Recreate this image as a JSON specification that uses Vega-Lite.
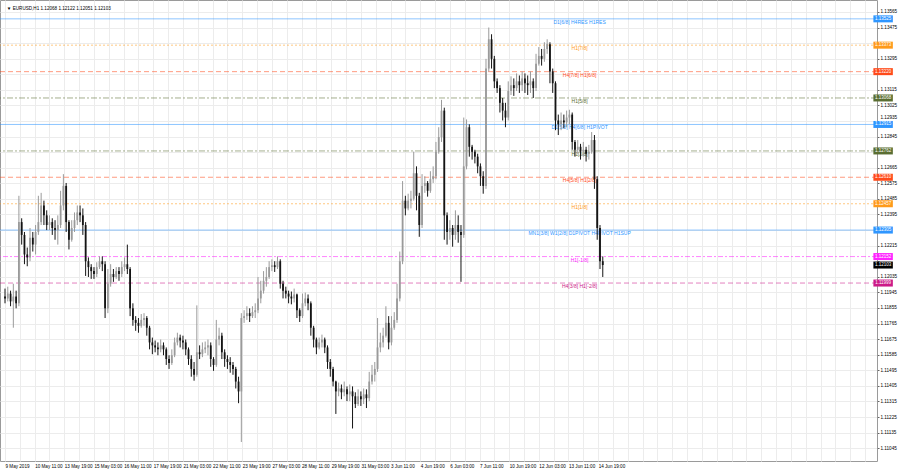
{
"$schema": "https://vega.github.io/schema/vega-lite/v6.json",
"width": 877, "height": 461,
"autosize": {"type": "none"},
"padding": {"left": 0, "top": 0, "right": 23, "bottom": 9},
"background": "#ffffff",
"config": {"view": {"stroke": "#9a9a9a", "strokeWidth": 1}, "font": "Liberation Sans",
 "axis": {"labelOverlap": false, "labelBound": false, "labelFlush": false}},
"datasets": {
"header": [{"text": "▼  EURUSD,H1  1.12068 1.12122 1.12051 1.12103"}],
"levels": [
{"price": 1.13525, "kind": "pivot", "label": "D1[6/8] H4RES H1RES"},
{"price": 1.13373, "kind": "weak", "label": "H1[7/8]"},
{"price": 1.13220, "kind": "reverse", "label": "H4[7/8] H1[6/8]"},
{"price": 1.13068, "kind": "range", "label": "H1[5/8]"},
{"price": 1.12915, "kind": "pivot", "label": "D1[5/8] H4[6/8] H1PIVOT"},
{"price": 1.12762, "kind": "range", "label": "H1[3/8]"},
{"price": 1.12610, "kind": "reverse", "label": "H4[5/8] H1[2/8]"},
{"price": 1.12457, "kind": "weak", "label": "H1[1/8]"},
{"price": 1.12305, "kind": "pivot", "label": "MN1[3/8] W1[2/8] D1PIVOT H4PIVOT H1SUP"},
{"price": 1.12152, "kind": "minus1", "label": "H1[-1/8]"},
{"price": 1.11999, "kind": "minus2", "label": "H4[3/8] H1[-2/8]"},
{"price": 1.12103, "kind": "bid", "label": ""}
],
"bars": [
{"t":0,"o":1.11921,"h":1.11967,"l":1.11882,"c":1.11910},
{"t":3,"o":1.11910,"h":1.11978,"l":1.11893,"c":1.11938},
{"t":6,"o":1.11938,"h":1.11955,"l":1.11865,"c":1.11893},
{"t":9,"o":1.11893,"h":1.11995,"l":1.11741,"c":1.11921},
{"t":12,"o":1.11921,"h":1.11955,"l":1.11853,"c":1.11882},
{"t":15,"o":1.11882,"h":1.12503,"l":1.11865,"c":1.12351},
{"t":18,"o":1.12351,"h":1.12373,"l":1.12221,"c":1.12277},
{"t":21,"o":1.12277,"h":1.12294,"l":1.12108,"c":1.12164},
{"t":24,"o":1.12164,"h":1.12204,"l":1.12096,"c":1.12147},
{"t":27,"o":1.12147,"h":1.12317,"l":1.12125,"c":1.12260},
{"t":30,"o":1.12260,"h":1.12294,"l":1.12181,"c":1.12221},
{"t":33,"o":1.12221,"h":1.12334,"l":1.12164,"c":1.12294},
{"t":36,"o":1.12294,"h":1.12503,"l":1.12277,"c":1.12351},
{"t":39,"o":1.12351,"h":1.12520,"l":1.12334,"c":1.12447},
{"t":42,"o":1.12447,"h":1.12475,"l":1.12334,"c":1.12390},
{"t":45,"o":1.12390,"h":1.12419,"l":1.12305,"c":1.12334},
{"t":48,"o":1.12334,"h":1.12390,"l":1.12305,"c":1.12351},
{"t":51,"o":1.12351,"h":1.12373,"l":1.12277,"c":1.12317},
{"t":54,"o":1.12317,"h":1.12362,"l":1.12249,"c":1.12305},
{"t":57,"o":1.12305,"h":1.12390,"l":1.12221,"c":1.12334},
{"t":60,"o":1.12334,"h":1.12532,"l":1.12317,"c":1.12447},
{"t":63,"o":1.12447,"h":1.12628,"l":1.12419,"c":1.12560},
{"t":66,"o":1.12560,"h":1.12577,"l":1.12294,"c":1.12351},
{"t":69,"o":1.12351,"h":1.12362,"l":1.12193,"c":1.12249},
{"t":72,"o":1.12249,"h":1.12362,"l":1.12238,"c":1.12317},
{"t":75,"o":1.12317,"h":1.12407,"l":1.12294,"c":1.12362},
{"t":78,"o":1.12362,"h":1.12447,"l":1.12334,"c":1.12407},
{"t":81,"o":1.12407,"h":1.12447,"l":1.12351,"c":1.12390},
{"t":84,"o":1.12390,"h":1.12430,"l":1.12277,"c":1.12334},
{"t":87,"o":1.12334,"h":1.12351,"l":1.12040,"c":1.12125},
{"t":90,"o":1.12125,"h":1.12147,"l":1.12034,"c":1.12091},
{"t":93,"o":1.12091,"h":1.12108,"l":1.12023,"c":1.12068},
{"t":96,"o":1.12068,"h":1.12091,"l":1.12023,"c":1.12051},
{"t":99,"o":1.12051,"h":1.12119,"l":1.12034,"c":1.12091},
{"t":102,"o":1.12091,"h":1.12153,"l":1.12080,"c":1.12125},
{"t":105,"o":1.12125,"h":1.12153,"l":1.12068,"c":1.12108},
{"t":108,"o":1.12108,"h":1.12125,"l":1.11797,"c":1.11853},
{"t":111,"o":1.11853,"h":1.12080,"l":1.11825,"c":1.11995},
{"t":114,"o":1.11995,"h":1.12108,"l":1.11978,"c":1.12051},
{"t":117,"o":1.12051,"h":1.12080,"l":1.12006,"c":1.12034},
{"t":120,"o":1.12034,"h":1.12091,"l":1.12023,"c":1.12068},
{"t":123,"o":1.12068,"h":1.12091,"l":1.12012,"c":1.12051},
{"t":126,"o":1.12051,"h":1.12125,"l":1.12034,"c":1.12091},
{"t":129,"o":1.12091,"h":1.12147,"l":1.12068,"c":1.12108},
{"t":132,"o":1.12108,"h":1.12221,"l":1.12051,"c":1.12080},
{"t":135,"o":1.12080,"h":1.12091,"l":1.11808,"c":1.11853},
{"t":138,"o":1.11853,"h":1.11882,"l":1.11752,"c":1.11786},
{"t":141,"o":1.11786,"h":1.11808,"l":1.11723,"c":1.11769},
{"t":144,"o":1.11769,"h":1.11797,"l":1.11712,"c":1.11752},
{"t":147,"o":1.11752,"h":1.11820,"l":1.11741,"c":1.11786},
{"t":150,"o":1.11786,"h":1.11825,"l":1.11752,"c":1.11797},
{"t":153,"o":1.11797,"h":1.11808,"l":1.11695,"c":1.11741},
{"t":156,"o":1.11741,"h":1.11752,"l":1.11616,"c":1.11656},
{"t":159,"o":1.11656,"h":1.11684,"l":1.11588,"c":1.11639},
{"t":162,"o":1.11639,"h":1.11667,"l":1.11599,"c":1.11627},
{"t":165,"o":1.11627,"h":1.11656,"l":1.11582,"c":1.11616},
{"t":168,"o":1.11616,"h":1.11673,"l":1.11599,"c":1.11639},
{"t":171,"o":1.11639,"h":1.11656,"l":1.11582,"c":1.11616},
{"t":174,"o":1.11616,"h":1.11627,"l":1.11526,"c":1.11560},
{"t":177,"o":1.11560,"h":1.11582,"l":1.11503,"c":1.11537},
{"t":180,"o":1.11537,"h":1.11616,"l":1.11526,"c":1.11582},
{"t":183,"o":1.11582,"h":1.11684,"l":1.11571,"c":1.11656},
{"t":186,"o":1.11656,"h":1.11712,"l":1.11639,"c":1.11684},
{"t":189,"o":1.11684,"h":1.11701,"l":1.11627,"c":1.11667},
{"t":192,"o":1.11667,"h":1.11695,"l":1.11616,"c":1.11656},
{"t":195,"o":1.11656,"h":1.11673,"l":1.11582,"c":1.11616},
{"t":198,"o":1.11616,"h":1.11627,"l":1.11526,"c":1.11560},
{"t":201,"o":1.11560,"h":1.11582,"l":1.11458,"c":1.11503},
{"t":204,"o":1.11503,"h":1.11543,"l":1.11435,"c":1.11469},
{"t":207,"o":1.11469,"h":1.11870,"l":1.11458,"c":1.11599},
{"t":210,"o":1.11599,"h":1.11639,"l":1.11560,"c":1.11588},
{"t":213,"o":1.11588,"h":1.11656,"l":1.11571,"c":1.11616},
{"t":216,"o":1.11616,"h":1.11661,"l":1.11594,"c":1.11627},
{"t":219,"o":1.11627,"h":1.11673,"l":1.11582,"c":1.11639},
{"t":222,"o":1.11639,"h":1.11656,"l":1.11515,"c":1.11560},
{"t":225,"o":1.11560,"h":1.11571,"l":1.11492,"c":1.11526},
{"t":228,"o":1.11526,"h":1.11786,"l":1.11515,"c":1.11673},
{"t":231,"o":1.11673,"h":1.11741,"l":1.11639,"c":1.11695},
{"t":234,"o":1.11695,"h":1.11712,"l":1.11560,"c":1.11599},
{"t":237,"o":1.11599,"h":1.11616,"l":1.11515,"c":1.11560},
{"t":240,"o":1.11560,"h":1.11582,"l":1.11503,"c":1.11543},
{"t":243,"o":1.11543,"h":1.11571,"l":1.11481,"c":1.11526},
{"t":246,"o":1.11526,"h":1.11543,"l":1.11469,"c":1.11503},
{"t":249,"o":1.11503,"h":1.11515,"l":1.11390,"c":1.11430},
{"t":252,"o":1.11430,"h":1.11458,"l":1.11305,"c":1.11373},
{"t":255,"o":1.11373,"h":1.11825,"l":1.11081,"c":1.11797},
{"t":258,"o":1.11797,"h":1.11842,"l":1.11769,"c":1.11808},
{"t":261,"o":1.11808,"h":1.11865,"l":1.11786,"c":1.11825},
{"t":264,"o":1.11825,"h":1.11853,"l":1.11774,"c":1.11808},
{"t":267,"o":1.11808,"h":1.11865,"l":1.11797,"c":1.11831},
{"t":270,"o":1.11831,"h":1.11882,"l":1.11797,"c":1.11842},
{"t":273,"o":1.11842,"h":1.12034,"l":1.11825,"c":1.11910},
{"t":276,"o":1.11910,"h":1.12012,"l":1.11882,"c":1.11955},
{"t":279,"o":1.11955,"h":1.12068,"l":1.11938,"c":1.12012},
{"t":282,"o":1.12012,"h":1.12091,"l":1.11978,"c":1.12034},
{"t":285,"o":1.12034,"h":1.12125,"l":1.12023,"c":1.12091},
{"t":288,"o":1.12091,"h":1.12136,"l":1.12068,"c":1.12102},
{"t":291,"o":1.12102,"h":1.12125,"l":1.12063,"c":1.12091},
{"t":294,"o":1.12091,"h":1.12153,"l":1.12080,"c":1.12125},
{"t":297,"o":1.12125,"h":1.12136,"l":1.11967,"c":1.11995},
{"t":300,"o":1.11995,"h":1.12012,"l":1.11910,"c":1.11955},
{"t":303,"o":1.11955,"h":1.11978,"l":1.11910,"c":1.11938},
{"t":306,"o":1.11938,"h":1.11955,"l":1.11882,"c":1.11921},
{"t":309,"o":1.11921,"h":1.11950,"l":1.11876,"c":1.11910},
{"t":312,"o":1.11910,"h":1.11967,"l":1.11887,"c":1.11933},
{"t":315,"o":1.11933,"h":1.11938,"l":1.11797,"c":1.11842},
{"t":318,"o":1.11842,"h":1.11853,"l":1.11774,"c":1.11808},
{"t":321,"o":1.11808,"h":1.11938,"l":1.11797,"c":1.11882},
{"t":324,"o":1.11882,"h":1.11944,"l":1.11865,"c":1.11910},
{"t":327,"o":1.11910,"h":1.11933,"l":1.11842,"c":1.11882},
{"t":330,"o":1.11882,"h":1.11893,"l":1.11695,"c":1.11741},
{"t":333,"o":1.11741,"h":1.11752,"l":1.11627,"c":1.11673},
{"t":336,"o":1.11673,"h":1.11684,"l":1.11588,"c":1.11627},
{"t":339,"o":1.11627,"h":1.11684,"l":1.11616,"c":1.11656},
{"t":342,"o":1.11656,"h":1.11701,"l":1.11627,"c":1.11673},
{"t":345,"o":1.11673,"h":1.11684,"l":1.11594,"c":1.11627},
{"t":348,"o":1.11627,"h":1.11639,"l":1.11503,"c":1.11543},
{"t":351,"o":1.11543,"h":1.11560,"l":1.11458,"c":1.11503},
{"t":354,"o":1.11503,"h":1.11515,"l":1.11402,"c":1.11430},
{"t":357,"o":1.11430,"h":1.11435,"l":1.11243,"c":1.11373},
{"t":360,"o":1.11373,"h":1.11424,"l":1.11345,"c":1.11390},
{"t":363,"o":1.11390,"h":1.11413,"l":1.11328,"c":1.11368},
{"t":366,"o":1.11368,"h":1.11430,"l":1.11345,"c":1.11385},
{"t":369,"o":1.11385,"h":1.11402,"l":1.11317,"c":1.11356},
{"t":372,"o":1.11356,"h":1.11413,"l":1.11317,"c":1.11373},
{"t":375,"o":1.11373,"h":1.11402,"l":1.11159,"c":1.11345},
{"t":378,"o":1.11345,"h":1.11368,"l":1.11277,"c":1.11300},
{"t":381,"o":1.11300,"h":1.11385,"l":1.11289,"c":1.11345},
{"t":384,"o":1.11345,"h":1.11373,"l":1.11289,"c":1.11328},
{"t":387,"o":1.11328,"h":1.11390,"l":1.11300,"c":1.11356},
{"t":390,"o":1.11356,"h":1.11385,"l":1.11277,"c":1.11334},
{"t":393,"o":1.11334,"h":1.11486,"l":1.11317,"c":1.11430},
{"t":396,"o":1.11430,"h":1.11526,"l":1.11413,"c":1.11469},
{"t":399,"o":1.11469,"h":1.11543,"l":1.11430,"c":1.11503},
{"t":402,"o":1.11503,"h":1.11797,"l":1.11486,"c":1.11627},
{"t":405,"o":1.11627,"h":1.11712,"l":1.11599,"c":1.11656},
{"t":408,"o":1.11656,"h":1.11741,"l":1.11627,"c":1.11695},
{"t":411,"o":1.11695,"h":1.11865,"l":1.11684,"c":1.11769},
{"t":414,"o":1.11769,"h":1.11808,"l":1.11616,"c":1.11656},
{"t":417,"o":1.11656,"h":1.11808,"l":1.11639,"c":1.11741},
{"t":420,"o":1.11741,"h":1.11831,"l":1.11729,"c":1.11786},
{"t":423,"o":1.11786,"h":1.11995,"l":1.11769,"c":1.11910},
{"t":426,"o":1.11910,"h":1.12181,"l":1.11893,"c":1.12125},
{"t":429,"o":1.12125,"h":1.12588,"l":1.12108,"c":1.12475},
{"t":432,"o":1.12475,"h":1.12503,"l":1.12390,"c":1.12430},
{"t":435,"o":1.12430,"h":1.12515,"l":1.12419,"c":1.12475},
{"t":438,"o":1.12475,"h":1.12532,"l":1.12430,"c":1.12486},
{"t":441,"o":1.12486,"h":1.12758,"l":1.12475,"c":1.12633},
{"t":444,"o":1.12633,"h":1.12673,"l":1.12419,"c":1.12503},
{"t":447,"o":1.12503,"h":1.12520,"l":1.12266,"c":1.12334},
{"t":450,"o":1.12334,"h":1.12628,"l":1.12317,"c":1.12560},
{"t":453,"o":1.12560,"h":1.12616,"l":1.12520,"c":1.12577},
{"t":456,"o":1.12577,"h":1.12588,"l":1.12498,"c":1.12532},
{"t":459,"o":1.12532,"h":1.12645,"l":1.12520,"c":1.12599},
{"t":462,"o":1.12599,"h":1.12673,"l":1.12577,"c":1.12616},
{"t":465,"o":1.12616,"h":1.12814,"l":1.12599,"c":1.12758},
{"t":468,"o":1.12758,"h":1.12899,"l":1.12746,"c":1.12842},
{"t":471,"o":1.12842,"h":1.13057,"l":1.12814,"c":1.12995},
{"t":474,"o":1.12995,"h":1.13012,"l":1.12249,"c":1.12390},
{"t":477,"o":1.12390,"h":1.12407,"l":1.12221,"c":1.12294},
{"t":480,"o":1.12294,"h":1.12362,"l":1.12249,"c":1.12317},
{"t":483,"o":1.12317,"h":1.12334,"l":1.12209,"c":1.12277},
{"t":486,"o":1.12277,"h":1.12419,"l":1.12249,"c":1.12334},
{"t":489,"o":1.12334,"h":1.12390,"l":1.12232,"c":1.12294},
{"t":492,"o":1.12294,"h":1.12334,"l":1.12006,"c":1.12277},
{"t":495,"o":1.12277,"h":1.12955,"l":1.12260,"c":1.12673},
{"t":498,"o":1.12673,"h":1.12944,"l":1.12656,"c":1.12899},
{"t":501,"o":1.12899,"h":1.12916,"l":1.12729,"c":1.12786},
{"t":504,"o":1.12786,"h":1.12797,"l":1.12712,"c":1.12758},
{"t":507,"o":1.12758,"h":1.12769,"l":1.12690,"c":1.12729},
{"t":510,"o":1.12729,"h":1.12746,"l":1.12633,"c":1.12673},
{"t":513,"o":1.12673,"h":1.12690,"l":1.12560,"c":1.12616},
{"t":516,"o":1.12616,"h":1.12645,"l":1.12515,"c":1.12560},
{"t":519,"o":1.12560,"h":1.13294,"l":1.12543,"c":1.13238},
{"t":522,"o":1.13238,"h":1.13475,"l":1.13221,"c":1.13407},
{"t":525,"o":1.13407,"h":1.13436,"l":1.13238,"c":1.13294},
{"t":528,"o":1.13294,"h":1.13311,"l":1.13125,"c":1.13164},
{"t":531,"o":1.13164,"h":1.13181,"l":1.13097,"c":1.13125},
{"t":534,"o":1.13125,"h":1.13142,"l":1.12984,"c":1.13040},
{"t":537,"o":1.13040,"h":1.13068,"l":1.12938,"c":1.12995},
{"t":540,"o":1.12995,"h":1.13040,"l":1.12899,"c":1.12955},
{"t":543,"o":1.12955,"h":1.13164,"l":1.12938,"c":1.13108},
{"t":546,"o":1.13108,"h":1.13193,"l":1.13085,"c":1.13142},
{"t":549,"o":1.13142,"h":1.13181,"l":1.13080,"c":1.13125},
{"t":552,"o":1.13125,"h":1.13210,"l":1.13108,"c":1.13164},
{"t":555,"o":1.13164,"h":1.13198,"l":1.13097,"c":1.13142},
{"t":558,"o":1.13142,"h":1.13221,"l":1.13108,"c":1.13181},
{"t":561,"o":1.13181,"h":1.13210,"l":1.13097,"c":1.13153},
{"t":564,"o":1.13153,"h":1.13198,"l":1.13085,"c":1.13142},
{"t":567,"o":1.13142,"h":1.13221,"l":1.13097,"c":1.13164},
{"t":570,"o":1.13164,"h":1.13181,"l":1.13068,"c":1.13125},
{"t":573,"o":1.13125,"h":1.13323,"l":1.13108,"c":1.13266},
{"t":576,"o":1.13266,"h":1.13362,"l":1.13255,"c":1.13311},
{"t":579,"o":1.13311,"h":1.13351,"l":1.13255,"c":1.13294},
{"t":582,"o":1.13294,"h":1.13390,"l":1.13277,"c":1.13351},
{"t":585,"o":1.13351,"h":1.13407,"l":1.13323,"c":1.13379},
{"t":588,"o":1.13379,"h":1.13390,"l":1.13153,"c":1.13221},
{"t":591,"o":1.13221,"h":1.13238,"l":1.13097,"c":1.13153},
{"t":594,"o":1.13153,"h":1.13164,"l":1.12882,"c":1.12938},
{"t":597,"o":1.12938,"h":1.12972,"l":1.12854,"c":1.12916},
{"t":600,"o":1.12916,"h":1.12984,"l":1.12882,"c":1.12938},
{"t":603,"o":1.12938,"h":1.12972,"l":1.12893,"c":1.12927},
{"t":606,"o":1.12927,"h":1.12995,"l":1.12899,"c":1.12955},
{"t":609,"o":1.12955,"h":1.13000,"l":1.12916,"c":1.12972},
{"t":612,"o":1.12972,"h":1.12984,"l":1.12769,"c":1.12814},
{"t":615,"o":1.12814,"h":1.12825,"l":1.12729,"c":1.12769},
{"t":618,"o":1.12769,"h":1.12825,"l":1.12746,"c":1.12786},
{"t":621,"o":1.12786,"h":1.12803,"l":1.12712,"c":1.12758},
{"t":624,"o":1.12758,"h":1.12814,"l":1.12729,"c":1.12769},
{"t":627,"o":1.12769,"h":1.12786,"l":1.12701,"c":1.12746},
{"t":630,"o":1.12746,"h":1.12797,"l":1.12712,"c":1.12758},
{"t":633,"o":1.12758,"h":1.12871,"l":1.12746,"c":1.12825},
{"t":636,"o":1.12825,"h":1.12854,"l":1.12543,"c":1.12599},
{"t":639,"o":1.12599,"h":1.12616,"l":1.12249,"c":1.12317},
{"t":642,"o":1.12317,"h":1.12334,"l":1.12080,"c":1.12125},
{"t":645,"o":1.12125,"h":1.12153,"l":1.12034,"c":1.12103}
]
},
"layer": [
{
"data": {"name": "levels"},
"transform": [{"filter": "datum.kind !== 'bid'"}],
"mark": {"type": "rule", "strokeWidth": 1, "opacity": 0.55},
"encoding": {
"y": {"field": "price", "type": "quantitative",
 "scale": {"domain": [1.11, 1.13605], "nice": false, "zero": false},
 "axis": {"orient": "right", "title": null, "tickCount": 200,
  "values": [1.11045,1.11135,1.11225,1.11315,1.11405,1.11495,1.11585,1.11675,1.11765,1.11855,1.11945,1.12035,1.12125,1.12215,1.12305,1.12395,1.12485,1.12575,1.12665,1.12755,1.12845,1.12935,1.13025,1.13115,1.13205,1.13295,1.13385,1.13475,1.13565],
  "labelExpr": "(abs(datum.value-1.13385)<0.000001 || abs(datum.value-1.13205)<0.000001 || abs(datum.value-1.12755)<0.000001 || abs(datum.value-1.12305)<0.000001 || abs(datum.value-1.12125)<0.000001) ? '' : format(datum.value, '.5f')",
  "labelOffset": {"condition": {"test": "abs(datum.value-1.12935)<0.000001", "value": -3}, "value": 0},
  "grid": true, "gridColor": "#ececec", "domain": false,
  "tickSize": 2, "tickColor": "#666666", "labelFontSize": 4.6, "labelPadding": 1,
  "labelColor": "#000000", "labelOverlap": false, "labelBound": false, "labelFlush": false}},
"color": {"field": "kind", "type": "nominal", "legend": null,
 "scale": {"domain": ["pivot","weak","reverse","range","minus1","minus2","bid"],
  "range": ["#2f96ff","#ff9a1a","#ff4a1a","#5a6e32","#ff22ff","#cc1a88","#000000"]}},
"strokeDash": {"field": "kind", "type": "nominal", "legend": null,
 "scale": {"domain": ["pivot","weak","reverse","range","minus1","minus2","bid"],
  "range": [[1,0],[2,2],[5,3],[6,2,2,2],[5,2,2,2],[5,3],[1,0]]}}
}
},
{
"data": {"name": "levels"},
"transform": [{"filter": "datum.kind !== 'bid'"}],
"mark": {"type": "text", "fontSize": 5, "baseline": "top", "dy": 1, "align": "center"},
"encoding": {
"x": {"datum": 620, "type": "quantitative"},
"y": {"field": "price", "type": "quantitative"},
"text": {"field": "label"},
"color": {"field": "kind", "type": "nominal", "legend": null}
}
},
{
"data": {"name": "bars"},
"encoding": {
"x": {"field": "t", "type": "quantitative",
 "scale": {"domain": [0, 935.5], "nice": false, "zero": false},
 "axis": {"title": null, "orient": "bottom", "tickCount": 200,
  "values": [0,16,32,48,64,80,96,112,128,144,160,176,192,208,224,240,256,272,288,304,320,336,352,368,384,400,416,432,448,464,480,496,512,528,544,560,576,592,608,624,640,656,672,688,704,720,736,752,768,784,800,816,832,848,864,880,896,912,928],
  "labelExpr": "datum.value % 32 === 0 && datum.value <= 640 ? ['9 May 2019','10 May 11:00','13 May 19:00','15 May 03:00','16 May 11:00','17 May 19:00','21 May 03:00','22 May 11:00','23 May 19:00','27 May 03:00','28 May 11:00','29 May 19:00','31 May 03:00','3 Jun 11:00','4 Jun 19:00','6 Jun 03:00','7 Jun 11:00','10 Jun 19:00','12 Jun 03:00','13 Jun 11:00','14 Jun 19:00'][datum.value / 32] : ''",
  "grid": true, "gridColor": "#ececec", "ticks": false, "domain": false,
  "labelFontSize": 4.6, "labelAlign": "left", "labelBaseline": "top", "labelPadding": 2,
  "labelColor": "#000000", "labelOverlap": false, "labelFlush": false, "labelBound": false}},
"color": {"condition": {"test": "datum.c > datum.o", "value": "#9a9a9a"}, "value": "#141414"}
},
"layer": [
{"mark": {"type": "rule", "strokeWidth": 1},
 "encoding": {"y": {"field": "l", "type": "quantitative"}, "y2": {"field": "h"}}},
{"mark": {"type": "bar", "width": 1.8},
 "encoding": {"y": {"field": "o", "type": "quantitative"}, "y2": {"field": "c"}}}
]
},
{
"data": {"name": "levels"},
"mark": {"type": "bar", "height": 7},
"encoding": {
"x": {"datum": 937, "type": "quantitative"},
"x2": {"datum": 958},
"y": {"field": "price", "type": "quantitative"},
"color": {"field": "kind", "type": "nominal", "legend": null}
}
},
{
"data": {"name": "levels"},
"mark": {"type": "text", "fontSize": 4.5, "color": "#ffffff", "align": "center", "baseline": "middle"},
"encoding": {
"x": {"datum": 947.5, "type": "quantitative"},
"y": {"field": "price", "type": "quantitative"},
"text": {"field": "price", "type": "quantitative", "format": ".5f"}
}
},
{
"data": {"name": "header"},
"mark": {"type": "text", "fontSize": 4.6, "align": "left", "baseline": "middle", "color": "#000000"},
"encoding": {
"x": {"datum": 2, "type": "quantitative"},
"y": {"datum": 1.1358, "type": "quantitative"},
"text": {"field": "text"}
}
}
]
}
